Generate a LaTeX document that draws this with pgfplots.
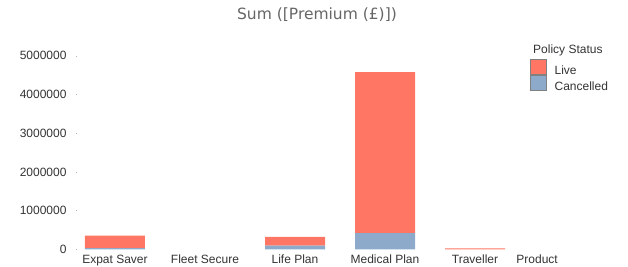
\documentclass[border=0pt]{standalone}
\usepackage{pgfplots}
\pgfplotsset{compat=1.18}
\usepackage{fontspec}
\setmainfont{Liberation Sans}
\newfontfamily\titlefont{DejaVu Sans}
\definecolor{liveC}{RGB}{255,118,100}
\definecolor{cancC}{RGB}{141,170,203}
\definecolor{txt}{RGB}{51,51,51}
\definecolor{ttl}{RGB}{102,102,102}
\begin{document}
\begin{tikzpicture}
\useasboundingbox (0,0) rectangle (628bp,267bp);
\node[anchor=base, text=ttl, inner sep=0pt, font=\titlefont\fontsize{15.5bp}{18bp}\selectfont] at (317bp,247bp) {Sum ([Premium (£)])};
\node[anchor=base west, text=txt, inner sep=0pt, font=\fontsize{12bp}{14bp}\selectfont] at (533bp,213bp) {Policy Status};
\begin{axis}[
  at={(76bp,17.7bp)}, anchor=south west,
  scale only axis, width=534bp, height=201.24bp,
  xmin=-0.4333, xmax=5.5, ymin=0, ymax=5200000,
  ybar stacked, bar width=60bp,
  axis line style={draw=none},
  xtick={0,1,2,3,4},
  xticklabels={Expat Saver,Fleet Secure,Life Plan,Medical Plan,Traveller},
  xtick style={draw=none},
  ytick={0,1000000,2000000,3000000,4000000,5000000},
  ytick pos=left,
  ytick style={draw=gray!60, line width=0.6bp},
  major tick length=1.5bp,
  scaled y ticks=false,
  font=\fontsize{12bp}{14bp}\selectfont,
  /pgf/number format/assume math mode=true,
  yticklabel style={/pgf/number format/fixed, /pgf/number format/1000 sep={}, anchor=east, inner sep=0pt, xshift=-9.3bp, text=txt},
  xticklabel style={anchor=base, inner sep=0pt, yshift=-14bp, text=txt},
  legend style={at={(0.8502,0.9471)}, anchor=north west, draw=none, fill=none, inner sep=0pt,
    row sep=-3bp, column sep=8bp, font=\fontsize{12bp}{14bp}\selectfont, text=txt,
    nodes={inner sep=0pt, text height=11.3bp, text depth=3.7bp}},
  legend cell align=left,
  reverse legend,
  legend image code/.code={\draw[#1, draw=gray] (0bp,-3.7bp) rectangle (16bp,11.3bp);},
  clip=false,
]
\addplot[fill=cancC, draw=none] coordinates {(0,32000) (1,0) (2,93000) (3,421000) (4,0)};
\addplot[fill=liveC, draw=none] coordinates {(0,319000) (1,0) (2,225000) (3,4160000) (4,25000)};
\legend{Cancelled,Live}
\node[anchor=base, inner sep=0pt, text=txt, yshift=-14bp] at (axis cs:4.69,0) {Product};
\end{axis}
\end{tikzpicture}
\end{document}
